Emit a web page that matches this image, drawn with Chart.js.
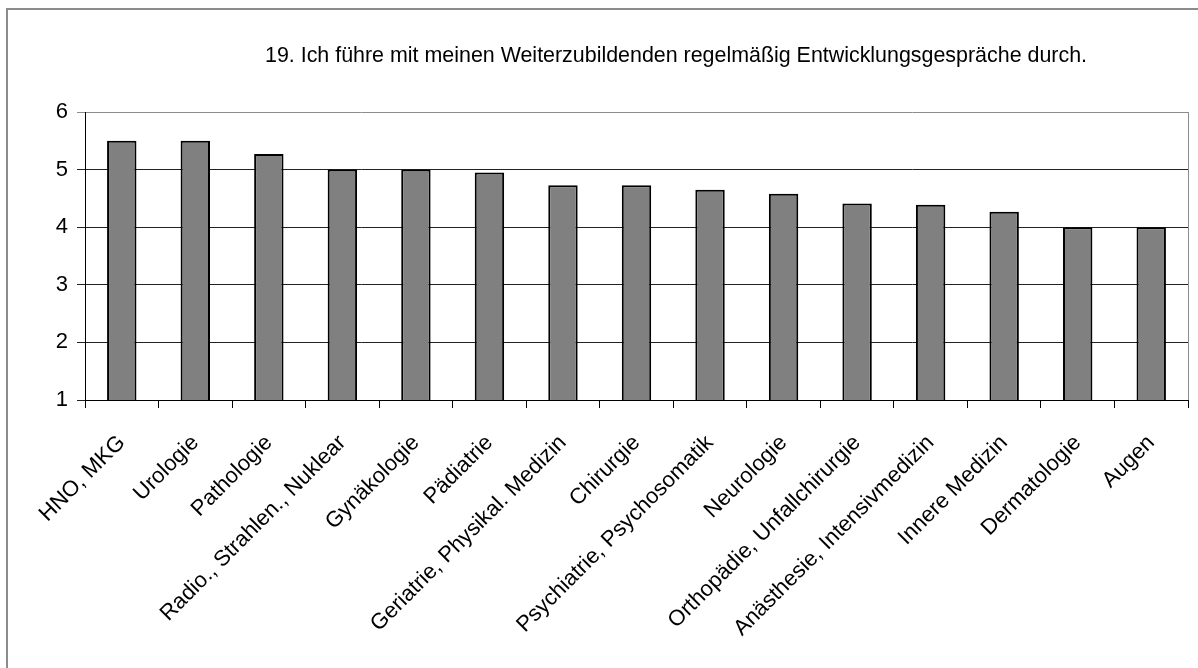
<!DOCTYPE html>
<html>
<head>
<meta charset="utf-8">
<script src="https://cdn.jsdelivr.net/npm/chart.js@4.4.0/dist/chart.umd.min.js"></script>
<style>
  html, body { margin: 0; padding: 0; background: #fff; }
  #wrap { position: relative; width: 1198px; height: 668px; }
</style>
</head>
<body>
<div id="wrap"><canvas id="chart" width="1198" height="668"></canvas></div>
<script>
// data
const chartTitle = '19. Ich führe mit meinen Weiterzubildenden regelmäßig Entwicklungsgespräche durch.';
const categories = [
  'HNO, MKG', 'Urologie', 'Pathologie', 'Radio., Strahlen., Nuklear', 'Gynäkologie',
  'Pädiatrie', 'Geriatrie, Physikal. Medizin', 'Chirurgie', 'Psychiatrie, Psychosomatik',
  'Neurologie', 'Orthopädie, Unfallchirurgie', 'Anästhesie, Intensivmedizin',
  'Innere Medizin', 'Dermatologie', 'Augen'
];
const values = [5.5, 5.5, 5.27, 5.0, 5.0, 4.95, 4.73, 4.73, 4.65, 4.58, 4.41, 4.39, 4.27, 4.0, 4.0];
const yMin = 1, yMax = 6, yStep = 1;

const FONT = 'Arial, "Liberation Sans", sans-serif';

// outer frame + plot frame + title
const decor = {
  id: 'decor',
  beforeDraw(chart) {
    const ctx = chart.ctx;
    ctx.save();
    ctx.fillStyle = '#fff';
    ctx.fillRect(0, 0, chart.width, chart.height);
    ctx.strokeStyle = '#8c8c8c';
    ctx.lineWidth = 2;
    ctx.strokeRect(7, 9, chart.width + 20, chart.height + 20);
    ctx.restore();
  },
  afterDatasetsDraw(chart) {
    const { ctx, chartArea } = chart;
    ctx.save();
    ctx.strokeStyle = '#8c8c8c';
    ctx.lineWidth = 1;
    ctx.beginPath();
    ctx.moveTo(chartArea.right + 0.5, chartArea.top);
    ctx.lineTo(chartArea.right + 0.5, chartArea.bottom);
    ctx.stroke();
    ctx.restore();
  },
  afterDraw(chart) {
    const ctx = chart.ctx;
    ctx.save();
    ctx.font = '22px ' + FONT;
    ctx.fillStyle = '#000';
    ctx.textBaseline = 'alphabetic';
    const w = ctx.measureText(chartTitle).width;
    const target = 822;
    ctx.translate(265, 62);
    ctx.scale(target / w, 1);
    ctx.fillText(chartTitle, 0, 0);
    ctx.restore();
  }
};

new Chart(document.getElementById('chart'), {
  type: 'bar',
  data: {
    labels: categories,
    datasets: [{
      data: values,
      backgroundColor: '#808080',
      borderColor: '#000',
      borderWidth: 2,
      barPercentage: 0.4,
      categoryPercentage: 1.0
    }]
  },
  options: {
    responsive: false,
    animation: false,
    layout: { padding: { top: 112, right: 10, left: 0, bottom: 0 } },
    plugins: { legend: { display: false }, title: { display: false }, tooltip: { enabled: false } },
    scales: {
      x: {
        afterFit(scale) { scale.height = 268; },
        border: { color: '#000', width: 1 },
        grid: { offset: true, drawOnChartArea: false, color: '#000', tickLength: 8 },
        ticks: { color: '#000', font: { family: FONT, size: 22 }, minRotation: 45, maxRotation: 45, autoSkip: false, padding: 22 }
      },
      y: {
        min: yMin, max: yMax,
        afterFit(scale) { scale.width = 85; },
        border: { color: '#000', width: 1 },
        grid: {
          color: ctx => (ctx.tick && ctx.tick.value === yMax) ? '#8c8c8c' : '#222',
          tickLength: 8
        },
        ticks: { stepSize: yStep, color: '#000', font: { family: FONT, size: 22 }, padding: 9 }
      }
    }
  },
  plugins: [decor]
});
</script>
</body>
</html>
